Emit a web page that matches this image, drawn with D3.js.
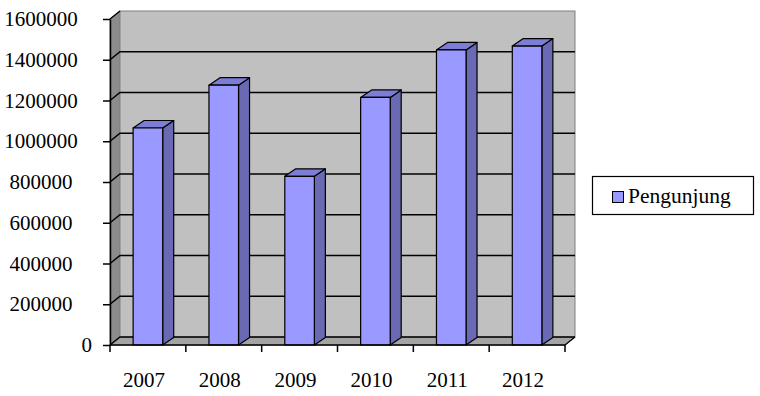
<!DOCTYPE html>
<html>
<head>
<meta charset="utf-8">
<script src="https://cdn.jsdelivr.net/npm/d3@7"></script>
<style>
  body { margin: 0; background: #fff; }
</style>
</head>
<body>
<script>
var width = 760,
    height = 396;

var serif = "'Liberation Serif', 'Times New Roman', serif";

// data
var years = ["2007", "2008", "2009", "2010", "2011", "2012"];
var visitors = [1065000, 1275000, 828000, 1215000, 1448000, 1467000];
var yTicks = [0, 200000, 400000, 600000, 800000, 1000000, 1200000, 1400000, 1600000];
var seriesName = "Pengunjung";

// depth offsets of the 3d box
var wallDx = 10, wallDy = -8;
var barDx = 11, barDy = -7.5;

var svg = d3.select("body").append("svg")
    .attr("width", width)
    .attr("height", height);

var x = d3.scaleBand()
    .domain(years)
    .range([110, 565])
    .paddingInner(0.61)
    .paddingOuter(0.305);

var y = d3.scaleLinear()
    .domain([0, 1600000])
    .range([345, 19]);

var x0 = x.range()[0], x1 = x.range()[1];
var y0 = y(0), yTop = y(1600000);

// left side wall
svg.append("path")
    .attr("d", d3.line()([[x0, y0], [x0, yTop], [x0 + wallDx, yTop + wallDy], [x0 + wallDx, y0 + wallDy]]) + "Z")
    .attr("fill", "#8c8c8c")
    .attr("stroke", "#808080");

// floor
svg.append("path")
    .attr("d", d3.line()([[x0, y0], [x0 + wallDx, y0 + wallDy], [x1 + wallDx, y0 + wallDy], [x1, y0]]) + "Z")
    .attr("fill", "#a4a4a4")
    .attr("stroke", "#808080");

// back wall
svg.append("rect")
    .attr("x", x0 + wallDx)
    .attr("y", yTop + wallDy)
    .attr("width", x1 - x0)
    .attr("height", y0 - yTop)
    .attr("fill", "#c0c0c0")
    .attr("stroke", "#808080");

// gridlines: slanted on side wall, flat on back wall
var grid = svg.append("g").attr("stroke", "#000").attr("stroke-width", 1.5).attr("fill", "none");
yTicks.forEach(function(v) {
  var yy = y(v);
  grid.append("path")
      .attr("d", v < 1600000
        ? d3.line()([[x0, yy], [x0 + wallDx, yy + wallDy], [x1 + wallDx, yy + wallDy]])
        : d3.line()([[x0, yy], [x0 + wallDx, yy + wallDy]]));
});

// floor right edge
svg.append("line")
    .attr("x1", x1).attr("y1", y0)
    .attr("x2", x1 + wallDx).attr("y2", y0 + wallDy)
    .attr("stroke", "#000").attr("stroke-width", 1.2);

// bars
var bars = svg.append("g").attr("stroke", "#000").attr("stroke-width", 1.2).attr("stroke-linejoin", "round");
years.forEach(function(yr, i) {
  var bx = x(yr), bw = x.bandwidth(), by = y(visitors[i]);
  // side
  bars.append("path")
      .attr("d", d3.line()([[bx + bw, y0], [bx + bw, by], [bx + bw + barDx, by + barDy], [bx + bw + barDx, y0 + barDy]]) + "Z")
      .attr("fill", "#6969b4");
  // top
  bars.append("path")
      .attr("d", d3.line()([[bx, by], [bx + barDx, by + barDy], [bx + bw + barDx, by + barDy], [bx + bw, by]]) + "Z")
      .attr("fill", "#7d7dd6");
  // front
  bars.append("rect")
      .attr("x", bx).attr("y", by)
      .attr("width", bw).attr("height", y0 - by)
      .attr("fill", "#9999ff");
});

// y axis
var yAxis = svg.append("g")
    .attr("transform", "translate(" + x0 + ",0)")
    .call(d3.axisLeft(y).tickValues(yTicks).tickSize(7).tickSizeOuter(0).tickFormat(d3.format("d")));
yAxis.select(".domain").attr("stroke", "#000").attr("stroke-width", 1.5);
yAxis.selectAll(".tick line").attr("stroke", "#000").attr("stroke-width", 1.5);
yAxis.selectAll(".tick text")
    .style("font-family", serif)
    .style("font-size", "21px")
    .attr("fill", "#000")
    .attr("text-anchor", function(d) { return d === 0 ? "end" : "middle"; })
    .attr("x", function(d) { return d === 0 ? -18 : -69; });

// x axis
var xAxis = svg.append("g").attr("stroke", "#000").attr("stroke-width", 1.5);
xAxis.append("line")
    .attr("x1", x0).attr("x2", x1)
    .attr("y1", y0).attr("y2", y0);
d3.range(years.length + 1).forEach(function(i) {
  var tx = x0 + i * x.step();
  xAxis.append("line")
      .attr("x1", tx).attr("x2", tx)
      .attr("y1", y0).attr("y2", y0 + 7);
});

svg.append("g").selectAll("text")
    .data(years)
  .enter().append("text")
    .attr("x", function(d) { return x(d) + x.bandwidth() / 2 - 4; })
    .attr("y", 387)
    .attr("text-anchor", "middle")
    .style("font-family", serif)
    .style("font-size", "21px")
    .text(function(d) { return d; });

// legend
var legend = svg.append("g");
legend.append("rect")
    .attr("x", 592.5).attr("y", 176.5)
    .attr("width", 161).attr("height", 38)
    .attr("fill", "#fff")
    .attr("stroke", "#000")
    .attr("stroke-width", 1.2);
legend.append("rect")
    .attr("x", 612.5).attr("y", 191.5)
    .attr("width", 11).attr("height", 11)
    .attr("fill", "#9999ff")
    .attr("stroke", "#000");
legend.append("text")
    .attr("x", 628)
    .attr("y", 203)
    .style("font-family", serif)
    .style("font-size", "21.5px")
    .text(seriesName);
</script>
</body>
</html>
